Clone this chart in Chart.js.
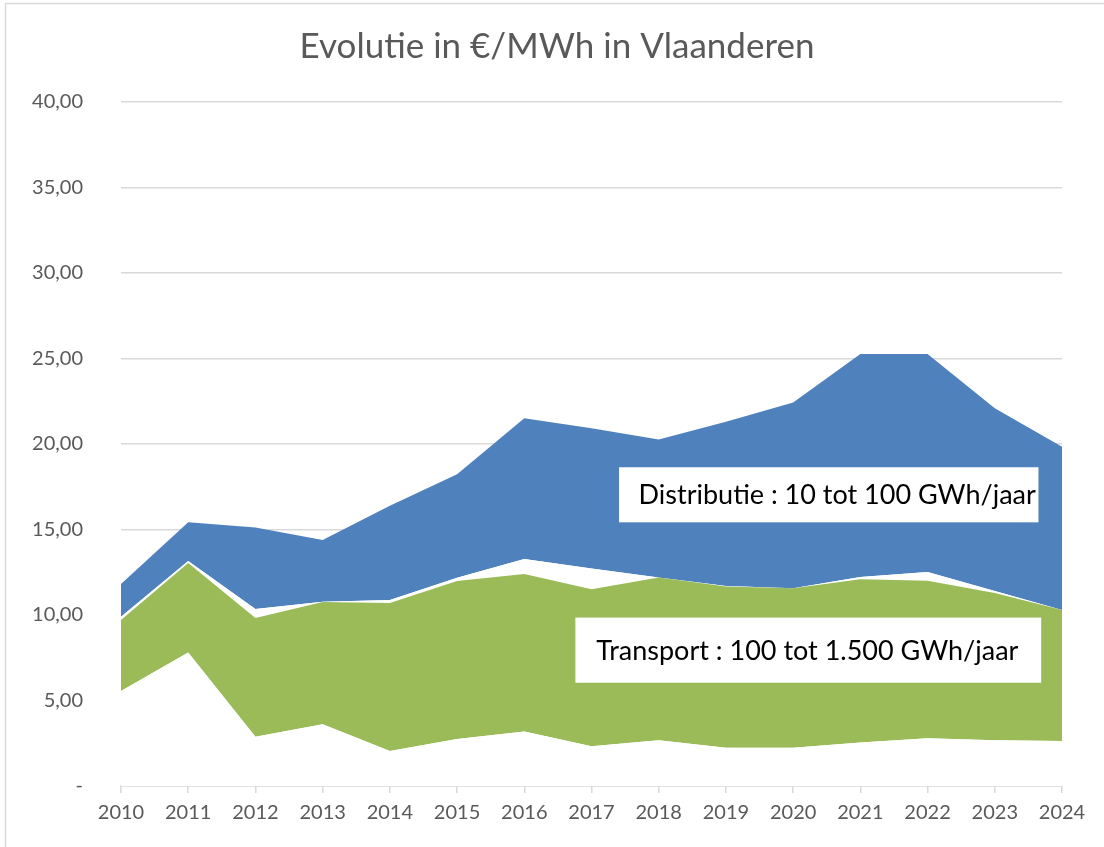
<!DOCTYPE html>
<html>
<head>
<meta charset="utf-8">
<script src="https://cdn.jsdelivr.net/npm/chart.js@4"></script>
<style>
  html, body { margin: 0; padding: 0; background: #fff; overflow: hidden; }
  #wrap { position: relative; width: 1104px; height: 847px; }
</style>
</head>
<body>
<div id="wrap"><canvas id="tarievenChart" width="1104" height="847"></canvas></div>
<script>
// Data
var years = ['2010', '2011', '2012', '2013', '2014', '2015', '2016', '2017', '2018', '2019', '2020', '2021', '2022', '2023', '2024'];
var transportLow = [5.56, 7.80, 2.88, 3.61, 2.05, 2.75, 3.18, 2.32, 2.67, 2.24, 2.24, 2.55, 2.79, 2.67, 2.63];
var transportHigh = [9.71, 13.04, 9.82, 10.76, 10.70, 11.99, 12.40, 11.50, 12.19, 11.67, 11.56, 12.09, 12.01, 11.29, 10.29];
var distributieLow = [9.90, 13.16, 10.35, 10.78, 10.88, 12.18, 13.27, 12.72, 12.19, 11.70, 11.56, 12.22, 12.51, 11.40, 10.29];
var distributieHigh = [11.81, 15.42, 15.11, 14.39, 16.39, 18.23, 21.50, 20.92, 20.27, 21.30, 22.42, 25.26, 25.26, 22.09, 19.84];
var yTickLabels = ['-', '5,00', '10,00', '15,00', '20,00', '25,00', '30,00', '35,00', '40,00'];
var bandLabels = ['Distributie : 10 tot 100 GWh/jaar', 'Transport : 100 tot 1.500 GWh/jaar'];
var chartTitle = 'Evolutie in €/MWh in Vlaanderen';

var FONT = 'Lato, "Open Sans", sans-serif';
var GREY_TEXT = '#595959';
var GRID = '#d9d9d9';

// white boxes with the band names, placed in data units (category index / value)
var labelBoxes = [
    { text: bandLabels[0], x0: 7.41, x1: 13.65, y0: 15.42, y1: 18.64, textX: 7.70 },
    { text: bandLabels[1], x0: 6.76, x1: 13.69, y0: 6.04, y1: 9.85, textX: 7.07 }
];

var labelBoxPlugin = {
    id: 'labelBoxes',
    afterDatasetsDraw: function (chart) {
        var ctx = chart.ctx;
        var xs = chart.scales.x, ys = chart.scales.y;
        ctx.save();
        labelBoxes.forEach(function (b) {
            var left = xs.getPixelForValue(b.x0), right = xs.getPixelForValue(b.x1);
            var top = ys.getPixelForValue(b.y1), bottom = ys.getPixelForValue(b.y0);
            ctx.fillStyle = '#ffffff';
            ctx.fillRect(left, top, right - left, bottom - top);
            ctx.fillStyle = '#000000';
            ctx.font = '27px ' + FONT;
            ctx.textBaseline = 'middle';
            ctx.textAlign = 'left';
            ctx.fillText(b.text, xs.getPixelForValue(b.textX), (top + bottom) / 2 + 1);
        });
        ctx.restore();
    }
};

// outer frame + title (Excel centres the title on the whole chart object)
var framePlugin = {
    id: 'frame',
    beforeDraw: function (chart) {
        var ctx = chart.ctx;
        ctx.save();
        ctx.strokeStyle = GRID;
        ctx.lineWidth = 1.5;
        ctx.strokeRect(5.5, 3.5, 1200, 1000);
        ctx.fillStyle = GREY_TEXT;
        ctx.font = '35px ' + FONT;
        ctx.textAlign = 'center';
        ctx.textBaseline = 'middle';
        ctx.fillText(chartTitle, 557, 47);
        ctx.restore();
    }
};

var ctx = document.getElementById('tarievenChart').getContext('2d');
var tarievenChart = new Chart(ctx, {
    type: 'line',
    data: {
        labels: years,
        datasets: [{
            label: 'basis',
            data: transportLow,
            fill: 'origin',
            backgroundColor: '#ffffff',
            borderWidth: 0
        }, {
            label: 'Transport',
            data: transportHigh,
            fill: '-1',
            backgroundColor: '#9bbb59',
            borderWidth: 0
        }, {
            label: 'tussenruimte',
            data: distributieLow,
            fill: '-1',
            backgroundColor: '#ffffff',
            borderWidth: 0
        }, {
            label: 'Distributie',
            data: distributieHigh,
            fill: '-1',
            backgroundColor: '#4f81bd',
            borderWidth: 0
        }]
    },
    options: {
        responsive: false,
        animation: false,
        elements: {
            point: { radius: 0 },
            line: { tension: 0 }
        },
        layout: {
            padding: { left: 0, right: 42, top: 102, bottom: 0 }
        },
        scales: {
            x: {
                offset: false,
                grid: {
                    display: true,
                    drawOnChartArea: false,
                    drawTicks: true,
                    tickLength: 7,
                    color: GRID,
                    lineWidth: 1.5
                },
                border: { display: true, color: GRID, width: 1.5 },
                ticks: {
                    color: GREY_TEXT,
                    font: { family: FONT, size: 20 },
                    padding: 8,
                    maxRotation: 0,
                    autoSkip: false
                },
                afterFit: function (scale) { scale.height = 61; }
            },
            y: {
                min: 0,
                max: 40,
                ticks: {
                    stepSize: 5,
                    color: GREY_TEXT,
                    font: { family: FONT, size: 20 },
                    padding: 38,
                    callback: function (value) { return yTickLabels[Math.round(value / 5)]; }
                },
                grid: {
                    color: GRID,
                    lineWidth: 1.5,
                    drawTicks: false
                },
                border: { display: false },
                afterFit: function (scale) { scale.width = 121; }
            }
        },
        plugins: {
            legend: { display: false },
            tooltip: { enabled: false },
            title: { display: false }
        }
    },
    plugins: [framePlugin, labelBoxPlugin]
});
</script>
</body>
</html>
